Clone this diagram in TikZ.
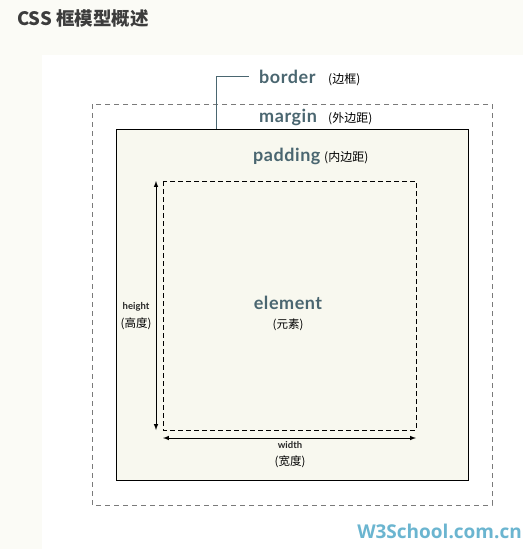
\documentclass[tikz,border=0pt]{standalone}
\usepackage{fontspec}
\setmainfont{Lato}
\newfontfamily\cjk{Noto Sans CJK SC}
\newfontfamily\logofont{Open Sans}
\usetikzlibrary{arrows}
\definecolor{pagebg}{HTML}{FBFBF6}
\definecolor{boxfill}{HTML}{F8F8EF}
\definecolor{slate}{HTML}{4A6670}
\definecolor{titlegray}{HTML}{3C3C3C}
\definecolor{logoblue}{HTML}{6BB5D0}
\definecolor{margingray}{HTML}{7A7A7A}
\tikzset{
  boxname/.style={anchor=base west, inner sep=0pt, text=slate,
    font=\bfseries\fontsize{18}{20}\selectfont\addfontfeature{LetterSpace=3}},
  cnnote/.style={anchor=base west, inner sep=0pt, text=black,
    font=\cjk\fontsize{12}{14}\selectfont},
  dimname/.style={anchor=base, inner sep=0pt, text=black!85,
    font=\bfseries\fontsize{9.5}{11}\selectfont},
  dimnote/.style={anchor=base, inner sep=0pt, text=black,
    font=\cjk\fontsize{11.5}{13}\selectfont}
}

\begin{document}
\begin{tikzpicture}[x = 1pt, y = -1pt]

			\useasboundingbox (0, 0) rectangle (523, 549);
			\fill[pagebg] (0, 0) rectangle (523, 549); % page
			\fill[white] (42, 55) rectangle (523, 549); % panel

			\node[anchor = base west, inner sep = 0pt, text = titlegray, font = \cjk\bfseries\fontsize{18.5}{21}\selectfont] (title) at (17, 25) {CSS 框模型概述};

			\draw[margingray, line width = 1pt, dash pattern = on 5pt off 4pt] (92, 104) rectangle (492, 505); % margin
			\draw[black, fill = boxfill, line width = 1pt] (116, 129) rectangle (468, 480); % border
			\draw[black, line width = 1pt, dash pattern = on 5pt off 3pt] (163, 181) rectangle (416, 430); % padding

			\node[boxname] (border) at (259, 83) {border};
			\node[cnnote] (borderCn) at (328, 83) {(边框)};
			\node[boxname] (margin) at (259, 122) {margin};
			\node[cnnote] (marginCn) at (328, 122) {(外边距)};
			\node[boxname] (padding) at (253, 161) {padding};
			\node[cnnote] (paddingCn) at (324, 161) {(内边距)};
			\node[boxname, anchor = base] (element) at (288, 309) {element};
			\node[dimnote] (elementCn) at (288, 328) {(元素)};

			\coordinate (lead) at (216, 129);
			\draw[slate, line width = 1pt] (lead) |- ([xshift = -10pt]border.west);

			\coordinate (hTop) at (156, 181);
			\coordinate (hBot) at (156, 430);
			\draw[latex-latex, line width = 1pt] (hTop) -- (hBot); % height
			\node[dimname] (height) at (136, 309) {height};
			\node[dimnote] (heightCn) at (136, 327) {(高度)};

			\coordinate (wLeft) at (163, 438);
			\coordinate (wRight) at (416, 438);
			\draw[latex-latex, line width = 1pt] (wLeft) -- (wRight); % width
			\node[dimname] (width) at (290, 448) {width};
			\node[dimnote] (widthCn) at (290, 465) {(宽度)};

			\node[anchor = base east, inner sep = 0pt, text = logoblue, font = \logofont\bfseries\fontsize{19}{22}\selectfont] (logo) at (522, 538) {W3School.com.cn};
		\end{tikzpicture}
\end{document}
